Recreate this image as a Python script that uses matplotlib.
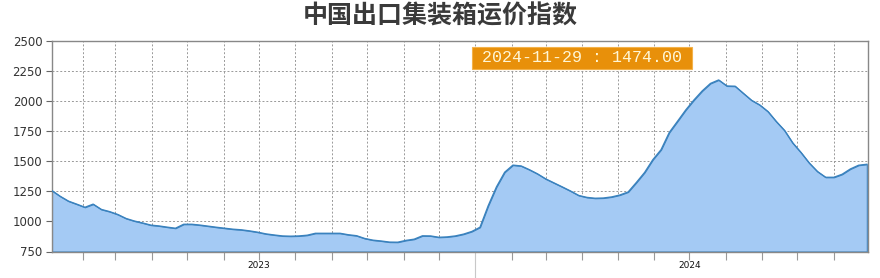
"""中国出口集装箱运价指数 (CCFI) 周度面积图"""

import matplotlib
matplotlib.use("Agg")
import matplotlib.pyplot as plt
import matplotlib.dates as mdates
import matplotlib.transforms as mtransforms
from matplotlib.patches import Rectangle
import pandas as pd

# 周度数据：2023-01-06 至 2024-11-29，每周五
dates = pd.date_range("2023-01-06", "2024-11-29", freq="W-FRI")
values = [
    1255, 1208, 1168, 1143, 1117, 1143, 1099, 1081, 1057, 1024,
    1003, 987, 969, 962, 952, 943, 976, 976, 969, 960,
    951, 943, 935, 930, 921, 910, 896, 887, 879, 877,
    879, 885, 901, 901, 901, 901, 889, 881, 858, 844,
    837, 828, 827, 842, 852, 880, 879, 868, 871, 879,
    894, 916, 951, 1130, 1286, 1408, 1467, 1460, 1429, 1394,
    1352, 1319, 1286, 1252, 1215, 1199, 1192, 1194, 1203, 1219,
    1244, 1323, 1406, 1512, 1595, 1738, 1831, 1925, 2008, 2083,
    2145, 2174, 2124, 2122, 2063, 2005, 1966, 1911, 1829, 1755,
    1651, 1572, 1485, 1414, 1366, 1366, 1391, 1435, 1466, 1474,
]
y_ticks = [750, 1000, 1250, 1500, 1750, 2000, 2250, 2500]
year_labels = ["2023", "2024"]
year_centers = ["2023-07-01", "2024-07-01"]
last_label = "2024-11-29 : 1474.00"

TITLE = "中国出口集装箱运价指数"
FILL = "#a4caf4"
LINE = "#3a82be"

plt.rcParams["font.family"] = ["Noto Sans CJK SC", "DejaVu Sans"]

fig = plt.figure(figsize=(8.8, 2.78), dpi=100)
ax = fig.add_axes([52 / 880, 26.5 / 278, 816 / 880, 210.8 / 278])

ax.fill_between(dates, values, 750, facecolor=FILL, edgecolor=LINE,
                linewidth=0.8, zorder=2)
ax.plot(dates, values, color=LINE, linewidth=1.0, zorder=3)

ax.set_xlim(dates[0], dates[-1] + pd.Timedelta(days=1))
ax.set_ylim(750, 2500)
ax.set_yticks(y_ticks)
ax.tick_params(axis="y", labelsize=8.5, labelcolor="#333333", color="#666666",
               length=4, width=0.8, pad=3)
for lab in ax.get_yticklabels():
    lab.set_family("DejaVu Sans")

# x 轴：按月网格线，年份边界处长刻度
ax.xaxis.set_major_locator(mdates.YearLocator(base=1, month=1, day=1))
ax.xaxis.set_minor_locator(mdates.MonthLocator())
ax.xaxis.set_major_formatter(plt.NullFormatter())
ax.tick_params(axis="x", which="minor", length=6, color="#999999", width=0.8)
ax.tick_params(axis="x", which="major", length=19, color="#c8c8c8", width=0.8)

ax.grid(True, which="both", axis="x", color="#999999", linestyle=(0, (2, 2)),
        linewidth=0.7, zorder=1)
ax.grid(True, which="major", axis="y", color="#999999", linestyle=(0, (2, 2)),
        linewidth=0.7, zorder=1)
ax.set_axisbelow(True)

for sp in ax.spines.values():
    sp.set_color("#888888")
    sp.set_linewidth(1.0)

trans = mtransforms.blended_transform_factory(ax.transData, ax.transAxes)
for lab, c in zip(year_labels, year_centers):
    ax.text(pd.Timestamp(c), -0.065, lab, transform=trans, ha="center",
            va="center", fontsize=6.5, color="#111111", family="DejaVu Sans")

# 最新值标签
box = Rectangle((0.5147, 0.868), 0.2696, 0.103, transform=ax.transAxes,
                facecolor="#e8900a", edgecolor="#f3b24a", linewidth=0.8,
                zorder=5)
ax.add_patch(box)
ax.text(0.5147 + 0.2696 / 2, 0.868 + 0.103 / 2, last_label,
        transform=ax.transAxes, ha="center", va="center", fontsize=12,
        color="#fff6d5", family="Liberation Mono", zorder=6)

fig.text(0.5, 1 - 16 / 278, TITLE, ha="center", va="center", fontsize=18,
         fontweight="bold", color="#3a3a3a")

fig.savefig("out.png", dpi=100)
